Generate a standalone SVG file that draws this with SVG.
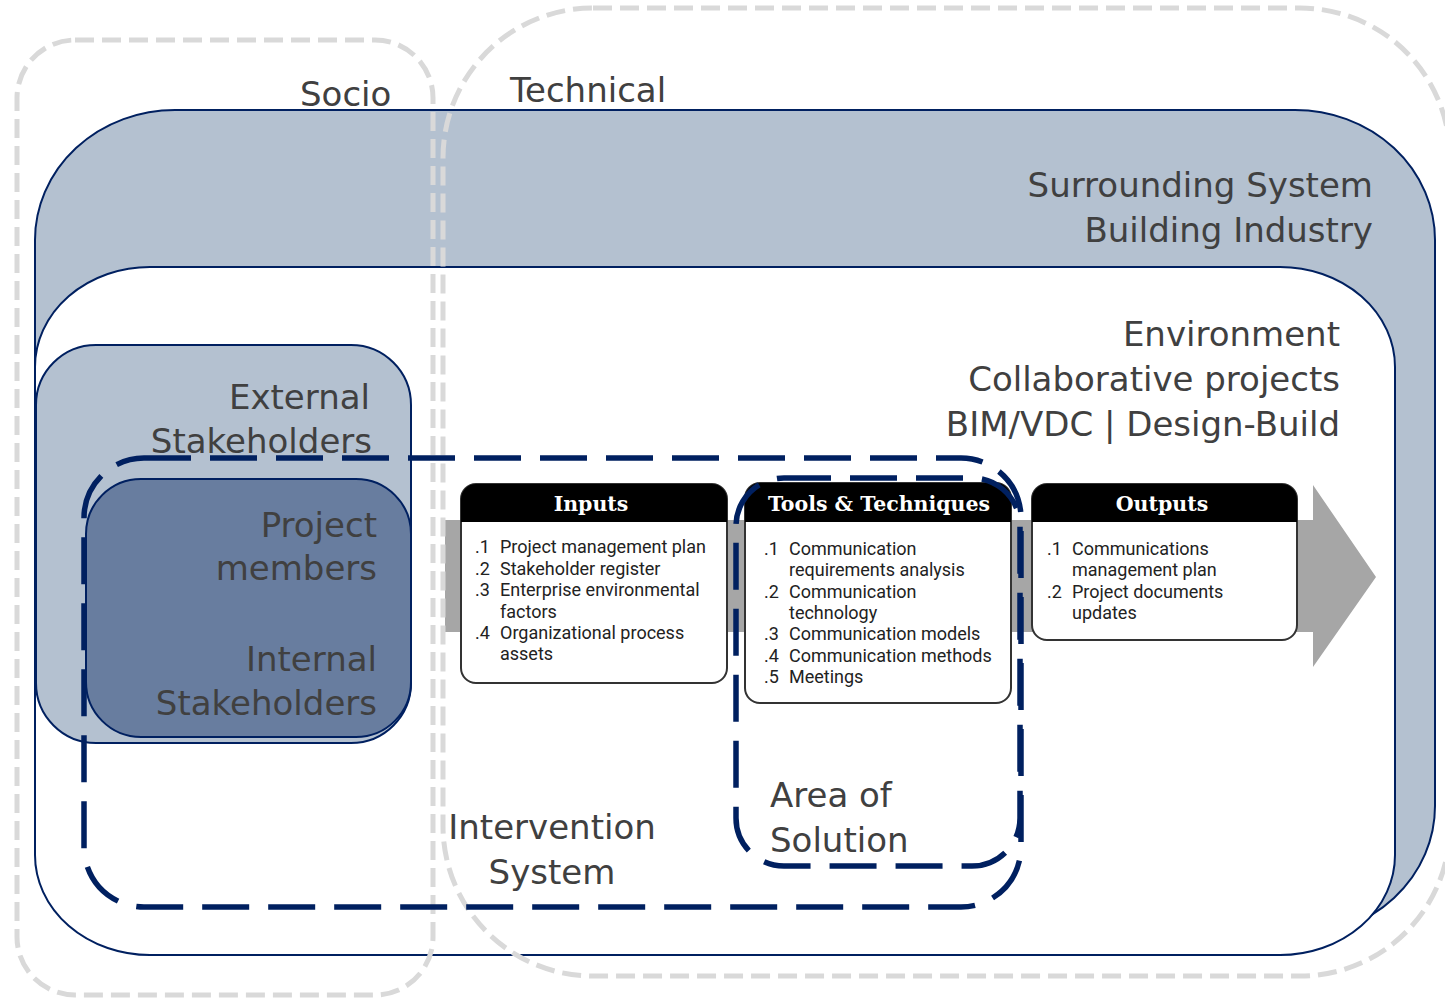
<svg xmlns="http://www.w3.org/2000/svg" width="1445" height="1000" viewBox="0 0 1445 1000">
<style>
.lbl{font-family:"DejaVu Sans",sans-serif;font-size:34px;fill:#404040}
.r{text-anchor:end}
.hdr{font-family:"DejaVu Serif",serif;font-weight:bold;font-size:20.5px;fill:#fff;text-anchor:middle}
.body{font-family:Roboto,"Liberation Sans",sans-serif;font-size:18px;fill:#222}
.gdash{fill:none;stroke:#d9d9d9;stroke-width:5;stroke-dasharray:19 8}
.ndash{fill:none;stroke:#002060;stroke-width:5.5;stroke-dasharray:47 19}
.box{fill:#fff;stroke:#333;stroke-width:2}
</style>
<rect width="1445" height="1000" fill="#fff"/>
<g id="surrounding">
<path d="M35,600 V240 A140,130 0 0 1 175,110 H1295 A140,130 0 0 1 1435,240 V806 A140,130 0 0 1 1295,936 L300,936 Z" fill="#b4c1d0" stroke="#002060" stroke-width="2"/>
</g>
<g id="environment">
<rect x="35" y="267" width="1360" height="688" rx="115" ry="100" fill="#fff" stroke="#002060" stroke-width="2"/>
</g>
<g id="external">
<rect x="36" y="345" width="375" height="398" rx="60" ry="60" fill="#b4c1d0" stroke="#002060" stroke-width="2"/>
</g>
<g id="project">
<rect x="86" y="479" width="325" height="258" rx="55" ry="55" fill="#687d9f" stroke="#002060" stroke-width="2"/>
</g>
<g id="arrow">
<path d="M445,520 H1313 V485 L1376,577 L1313,667 V632 H445 Z" fill="#a6a6a6"/>
</g>
<g id="inputs">
<rect class="box" x="461" y="484" width="266" height="199" rx="15"/>
<path d="M461,522 V499 A15,15 0 0 1 476,484 H712 A15,15 0 0 1 727,499 V522 Z" fill="#000"/>
<text class="hdr" x="591" y="511">Inputs</text>
<g class="body">
<text x="475" y="553">.1</text><text x="500" y="553">Project management plan</text>
<text x="475" y="575">.2</text><text x="500" y="575">Stakeholder register</text>
<text x="475" y="596">.3</text><text x="500" y="596">Enterprise environmental</text>
<text x="500" y="618">factors</text>
<text x="475" y="639">.4</text><text x="500" y="639">Organizational process</text>
<text x="500" y="660">assets</text>
</g>
</g>
<g id="tools">
<rect class="box" x="745" y="483" width="266" height="220" rx="15"/>
<path d="M745,522 V498 A15,15 0 0 1 760,483 H996 A15,15 0 0 1 1011,498 V522 Z" fill="#000"/>
<text class="hdr" x="879" y="511">Tools &amp; Techniques</text>
<g class="body">
<text x="764" y="555">.1</text><text x="789" y="555">Communication</text>
<text x="789" y="576">requirements analysis</text>
<text x="764" y="598">.2</text><text x="789" y="598">Communication</text>
<text x="789" y="619">technology</text>
<text x="764" y="640">.3</text><text x="789" y="640">Communication models</text>
<text x="764" y="662">.4</text><text x="789" y="662">Communication methods</text>
<text x="764" y="683">.5</text><text x="789" y="683">Meetings</text>
</g>
</g>
<g id="outputs">
<rect class="box" x="1032" y="484" width="265" height="156" rx="15"/>
<path d="M1032,522 V499 A15,15 0 0 1 1047,484 H1282 A15,15 0 0 1 1297,499 V522 Z" fill="#000"/>
<text class="hdr" x="1162" y="511">Outputs</text>
<g class="body">
<text x="1047" y="555">.1</text><text x="1072" y="555">Communications</text>
<text x="1072" y="576">management plan</text>
<text x="1047" y="598">.2</text><text x="1072" y="598">Project documents</text>
<text x="1072" y="619">updates</text>
</g>
</g>
<g id="socio">
<rect class="gdash" x="17" y="40" width="416" height="955" rx="58" ry="58"/>
</g>
<g id="technical">
<rect class="gdash" x="443" y="8" width="1007" height="968" rx="150" ry="150"/>
</g>
<g id="intervention">
<rect class="ndash" x="84" y="458" width="937" height="449" rx="60" ry="60"/>
</g>
<g id="area">
<rect class="ndash" x="736" y="478" width="284" height="388" rx="48" ry="48"/>
</g>
<g id="labels">
<text class="lbl" x="300" y="106">Socio</text>
<text class="lbl" x="510" y="102">Technical</text>
<text class="lbl r" x="1373" y="197">Surrounding System</text>
<text class="lbl r" x="1373" y="242">Building Industry</text>
<text class="lbl r" x="1340" y="346">Environment</text>
<text class="lbl r" x="1340" y="391">Collaborative projects</text>
<text class="lbl r" x="1340" y="436">BIM/VDC | Design-Build</text>
<text class="lbl r" x="370" y="409">External</text>
<text class="lbl r" x="372" y="453">Stakeholders</text>
<text class="lbl r" x="377" y="537">Project</text>
<text class="lbl r" x="377" y="580">members</text>
<text class="lbl r" x="377" y="671">Internal</text>
<text class="lbl r" x="377" y="715">Stakeholders</text>
<text class="lbl" x="552" y="839" text-anchor="middle">Intervention</text>
<text class="lbl" x="552" y="884" text-anchor="middle">System</text>
<text class="lbl" x="770" y="807">Area of</text>
<text class="lbl" x="770" y="852">Solution</text>
</g>
</svg>
